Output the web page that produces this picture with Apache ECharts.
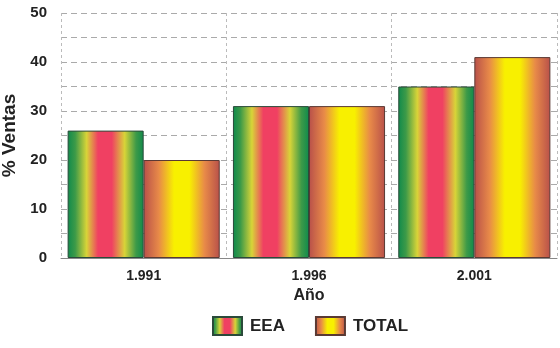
<!DOCTYPE html>
<html><head><meta charset="utf-8">
<script src="https://cdn.jsdelivr.net/npm/echarts@6/dist/echarts.min.js"></script>
<style>html,body{margin:0;padding:0;background:#fff}#c{width:560px;height:348px}</style>
</head><body><div id="c"></div>
<script>
const categories = ['1.991', '1.996', '2.001'];
const eeaValues = [26, 31, 35];
const totalValues = [20, 31, 41];
const yTicks = [0, 10, 20, 30, 40, 50];

const eeaGrad = new echarts.graphic.LinearGradient(0, 0, 1, 0, [
  {offset: 0, color: '#0f8a4c'},
  {offset: 0.1, color: '#3d9a48'},
  {offset: 0.25, color: '#d8d438'},
  {offset: 0.4, color: '#f04062'},
  {offset: 0.58, color: '#f04062'},
  {offset: 0.75, color: '#d8d438'},
  {offset: 0.9, color: '#3d9a48'},
  {offset: 1, color: '#0f8a4c'}
]);
const totGrad = new echarts.graphic.LinearGradient(0, 0, 1, 0, [
  {offset: 0, color: '#b8504a'},
  {offset: 0.2, color: '#e88a48'},
  {offset: 0.4, color: '#f8f000'},
  {offset: 0.6, color: '#f8f000'},
  {offset: 0.8, color: '#e88a48'},
  {offset: 1, color: '#b8504a'}
]);

const chart = echarts.init(document.getElementById('c'), null, {renderer: 'canvas'});
chart.setOption({
  animation: false,
  textStyle: {fontFamily: 'Liberation Sans, Arial, sans-serif'},
  grid: {left: 61, right: 3, top: 13, bottom: 90, outerBoundsMode: 'none', containLabel: false},
  legend: {
    bottom: 7, left: 207, itemWidth: 29, itemHeight: 18, itemGap: 30,
    icon: 'rect',
    textStyle: {fontSize: 17, fontWeight: 'bold', color: '#222', padding: [0, 0, 0, 3]},
    data: ['EEA', 'TOTAL']
  },
  xAxis: {
    type: 'category', data: categories,
    name: 'Año', nameLocation: 'middle', nameGap: 28,
    nameTextStyle: {fontSize: 16, fontWeight: 'bold', color: '#222'},
    axisTick: {show: false},
    axisLine: {show: true, lineStyle: {color: '#888', width: 1}},
    axisLabel: {fontSize: 14, fontWeight: 'bold', color: '#222', margin: 11},
    splitLine: {show: true, lineStyle: {color: '#bbb', type: [3, 3], width: 1}}
  },
  yAxis: {
    type: 'value', min: 0, max: 50, interval: 5,
    name: '% Ventas', nameLocation: 'middle', nameGap: 33,
    nameTextStyle: {fontSize: 19, fontWeight: 'bold', color: '#222'},
    axisLine: {show: false}, axisTick: {show: false},
    axisLabel: {fontSize: 15, fontWeight: 'bold', color: '#222', margin: 14,
      formatter: v => yTicks.includes(v) ? String(v) : ''},
    splitLine: {show: true, lineStyle: {color: '#aaa', type: [6, 4], width: 1}}
  },
  series: [
    {name: 'EEA', type: 'bar', data: eeaValues, barGap: '0%', barCategoryGap: '8%',
     itemStyle: {color: eeaGrad, borderColor: '#2a4a3a', borderWidth: 1}},
    {name: 'TOTAL', type: 'bar', data: totalValues,
     itemStyle: {color: totGrad, borderColor: '#5a3a34', borderWidth: 1}}
  ]
});
</script></body></html>
